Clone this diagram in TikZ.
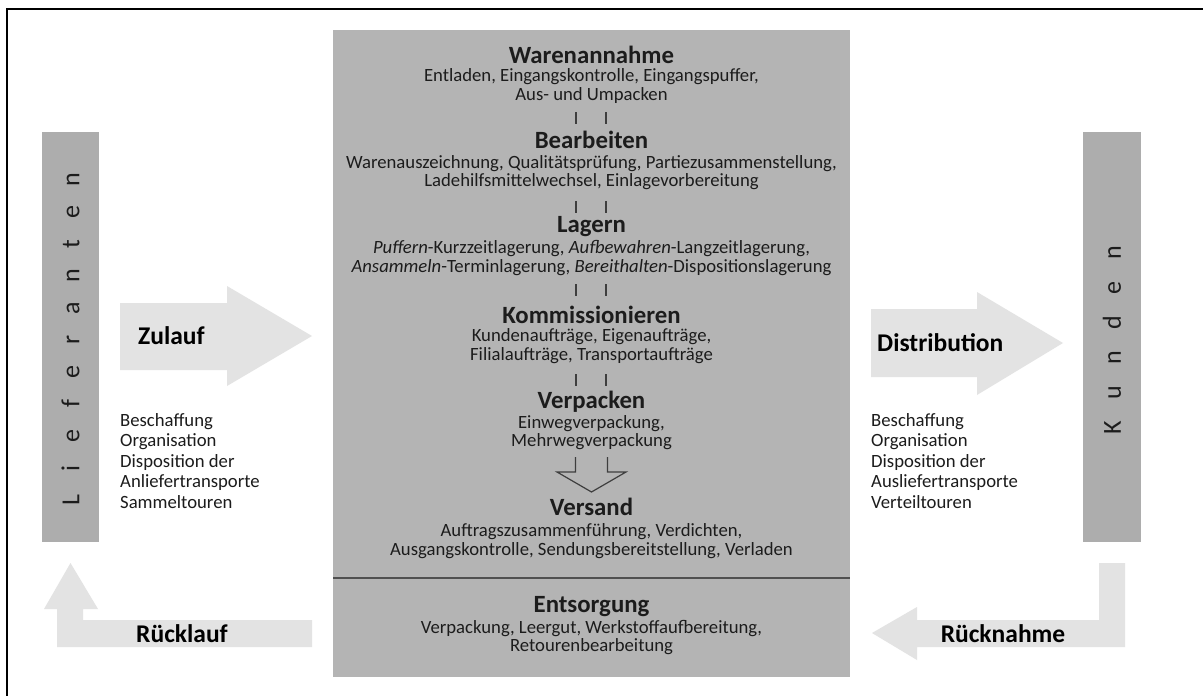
\documentclass[tikz,border=0pt]{standalone}
\usepackage{fontspec}
\setmainfont{Carlito}
\definecolor{boxgray}{HTML}{B4B4B4}
\definecolor{bargray}{HTML}{ADADAD}
\definecolor{arrgray}{HTML}{E3E3E3}
\definecolor{txt}{HTML}{1C1C1C}
\definecolor{divline}{HTML}{505050}
\tikzset{
  title/.style={font=\bfseries\fontsize{24.8}{26}\selectfont, text=txt, inner sep=0pt},
  body/.style={font=\fontsize{18.7}{18.5}\selectfont, text=txt, align=center, inner sep=0pt},
  side/.style={font=\fontsize{18.7}{20.5}\selectfont, text=txt, align=left, inner sep=0pt, anchor=west},
  arrlbl/.style={font=\bfseries\fontsize{25.5}{27}\selectfont, text=black, inner sep=0pt},
  vlbl/.style={font=\fontsize{26}{26}\selectfont, text=txt, rotate=90, inner sep=0pt},
  bigarrow/.style={fill=arrgray, draw=none},
  sep/.style={draw=txt!85, line width=1.2pt},
}
\newcommand{\ls}[2]{\makebox[#1]{#2}}
\begin{document}
\begin{tikzpicture}[x=1pt,y=-1pt]
\useasboundingbox (0,0) rectangle (1203,696);
\fill[white] (0,0) rectangle (1203,696);
% frame
\draw[black, line width=2pt] (1203,9) -- (7,9) -- (7,696);

% central box
\fill[boxgray] (333,30) rectangle (850,677);
\draw[divline, line width=2pt] (333,578) -- (850,578);

% side bars
\fill[bargray] (42,132) rectangle (99,542);
\fill[bargray] (1083,132) rectangle (1141,542);
\node[vlbl] (lief) at (70.5,340) {\ls{32pt}{L}\ls{32pt}{i}\ls{32pt}{e}\ls{32pt}{f}\ls{32pt}{e}\ls{32pt}{r}\ls{32pt}{a}\ls{32pt}{n}\ls{32pt}{t}\ls{32pt}{e}\ls{32pt}{n}};
\node[vlbl] (kund) at (1112,340) {\ls{35pt}{K}\ls{35pt}{u}\ls{35pt}{n}\ls{35pt}{d}\ls{35pt}{e}\ls{35pt}{n}};

% big arrows
\fill[bigarrow] (120,303) -- (227,303) -- (227,286) -- (312,336) -- (227,386) -- (227,370) -- (120,370) -- cycle;
\fill[bigarrow] (871,309) -- (977,309) -- (977,292) -- (1063,343) -- (977,395) -- (977,377) -- (871,377) -- cycle;
\fill[bigarrow] (312,620) -- (312,647) -- (57,647) -- (57,609) -- (44,609) -- (70.5,563) -- (98,609) -- (83,609) -- (83,620) -- cycle;
\fill[bigarrow] (1099,563) -- (1125,563) -- (1125,647) -- (917,647) -- (917,660) -- (872,633) -- (917,607) -- (917,620) -- (1099,620) -- cycle;

\node[arrlbl, anchor=west] (zul) at (138,336) {Zulauf};
\node[arrlbl, anchor=west] (dist) at (877,343) {Distribution};
\node[arrlbl] (rueckl) at (182,634) {Rücklauf};
\node[arrlbl] (rueckn) at (1003,634) {Rücknahme};

\node[side] (lt) at (120,461) {Beschaffung\\Organisation\\Disposition der\\Anliefertransporte\\Sammeltouren};
\node[side] (rt) at (871,461) {Beschaffung\\Organisation\\Disposition der\\Ausliefertransporte\\Verteiltouren};

% central content
\node[title] (t1) at (591.5,55) {Warenannahme};
\node[body] (b1) at (591.5,86) {Entladen, Eingangskontrolle, Eingangspuffer,\\Aus- und Umpacken};
\node[title] (t2) at (591.5,140) {Bearbeiten};
\node[body] (b2) at (591.5,172.5) {Warenauszeichnung, Qualitätsprüfung, Partiezusammenstellung,\\Ladehilfsmittelwechsel, Einlagevorbereitung};
\node[title] (t3) at (591.5,227) {Lagern};
\node[body] (b3) at (591.5,258) {\textit{Puffern}-Kurzzeitlagerung, \textit{Aufbewahren}-Langzeitlagerung,\\\textit{Ansammeln}-Terminlagerung, \textit{Bereithalten}-Dispositionslagerung};
\node[title] (t4) at (591.5,315) {Kommissionieren};
\node[body] (b4) at (591.5,346) {Kundenaufträge, Eigenaufträge,\\Filialaufträge, Transportaufträge};
\node[title] (t5) at (591.5,402) {Verpacken};
\node[body] (b5) at (591.5,432.5) {Einwegverpackung,\\Mehrwegverpackung};
\node[title] (t6) at (591.5,507) {Versand};
\node[body] (b6) at (591.5,541) {Auftragszusammenführung, Verdichten,\\Ausgangskontrolle, Sendungsbereitstellung, Verladen};
\node[title] (t7) at (591.5,607) {Entsorgung};
\node[body] (b7) at (591.5,637.5) {Verpackung, Leergut, Werkstoffaufbereitung,\\Retourenbearbeitung};

% broken connectors
\foreach \yy in {118,207,290,380} {
  \draw[sep] (576,\yy-6) -- (576,\yy+6);
  \draw[sep] (606,\yy-6) -- (606,\yy+6);
}
% hollow arrow to Versand
\draw[sep, line join=miter] (575.5,457) -- (575.5,472) -- (557,472) -- (591.5,492) -- (626,472) -- (607.5,472) -- (607.5,457);
\end{tikzpicture}
\end{document}
